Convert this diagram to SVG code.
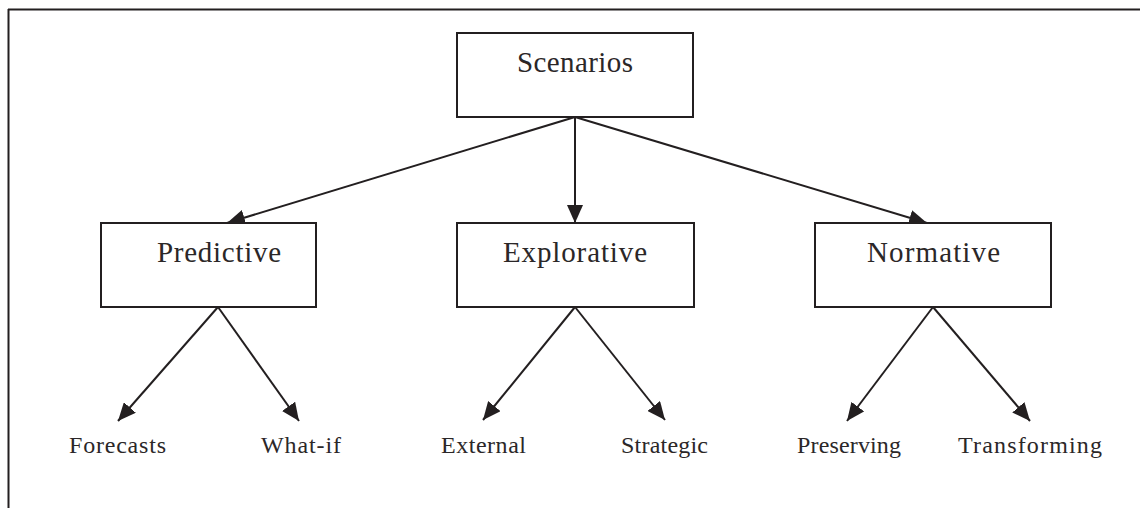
<svg xmlns="http://www.w3.org/2000/svg" width="1140" height="508" viewBox="0 0 1140 508">
  <style>
    .box { fill: #ffffff; stroke: #231f20; stroke-width: 2; }
    .edge { stroke: #231f20; stroke-width: 2; fill: none; marker-end: url(#arrow); }
    .frame { stroke: #231f20; stroke-width: 2; fill: none; }
    .big { font-family: "Liberation Serif", "DejaVu Serif", serif; font-size: 29px; fill: #2b2728; }
    .small { font-family: "Liberation Serif", "DejaVu Serif", serif; font-size: 24px; fill: #2b2728; }
  </style>
  <defs>
    <marker id="arrow" markerUnits="userSpaceOnUse" markerWidth="20" markerHeight="16" refX="18" refY="8" orient="auto">
      <path d="M0,0 L18,8 L0,16 Z" fill="#231f20"/>
    </marker>
  </defs>

  <rect width="1140" height="508" fill="#ffffff"/>

  <!-- page frame: top and left rules -->
  <g id="frame">
    <line class="frame" x1="8" y1="9.5" x2="1140" y2="9.5"/>
    <line class="frame" x1="8.5" y1="9" x2="8.5" y2="508"/>
  </g>

  <!-- connectors -->
  <g id="connectors">
    <line class="edge" x1="575" y1="117" x2="227" y2="223"/>
    <line class="edge" x1="575" y1="117" x2="575" y2="223"/>
    <line class="edge" x1="575" y1="117" x2="927" y2="223"/>
    <line class="edge" x1="218" y1="307" x2="118" y2="421"/>
    <line class="edge" x1="218" y1="307" x2="299" y2="421"/>
    <line class="edge" x1="575" y1="307" x2="483" y2="420"/>
    <line class="edge" x1="575" y1="307" x2="665" y2="420"/>
    <line class="edge" x1="933" y1="307" x2="847" y2="421"/>
    <line class="edge" x1="933" y1="307" x2="1030" y2="421"/>
  </g>

  <g id="scenarios">
    <rect class="box" x="457" y="33" width="236" height="84"/>
    <text class="big" x="517" y="72" textLength="116" lengthAdjust="spacing">Scenarios</text>
  </g>

  <g id="predictive">
    <rect class="box" x="101" y="223" width="215" height="84"/>
    <text class="big" x="157" y="262" textLength="124" lengthAdjust="spacing">Predictive</text>
  </g>

  <g id="explorative">
    <rect class="box" x="457" y="223" width="237" height="84"/>
    <text class="big" x="503" y="262" textLength="144" lengthAdjust="spacing">Explorative</text>
  </g>

  <g id="normative">
    <rect class="box" x="815" y="223" width="236" height="84"/>
    <text class="big" x="867" y="262" textLength="133" lengthAdjust="spacing">Normative</text>
  </g>

  <g id="forecasts">
    <text class="small" x="69" y="453" textLength="97" lengthAdjust="spacing">Forecasts</text>
  </g>
  <g id="what-if">
    <text class="small" x="261" y="453" textLength="80" lengthAdjust="spacing">What-if</text>
  </g>
  <g id="external">
    <text class="small" x="441" y="453" textLength="85" lengthAdjust="spacing">External</text>
  </g>
  <g id="strategic">
    <text class="small" x="621" y="453" textLength="87" lengthAdjust="spacing">Strategic</text>
  </g>
  <g id="preserving">
    <text class="small" x="797" y="453" textLength="104" lengthAdjust="spacing">Preserving</text>
  </g>
  <g id="transforming">
    <text class="small" x="958" y="453" textLength="144" lengthAdjust="spacing">Transforming</text>
  </g>
</svg>
